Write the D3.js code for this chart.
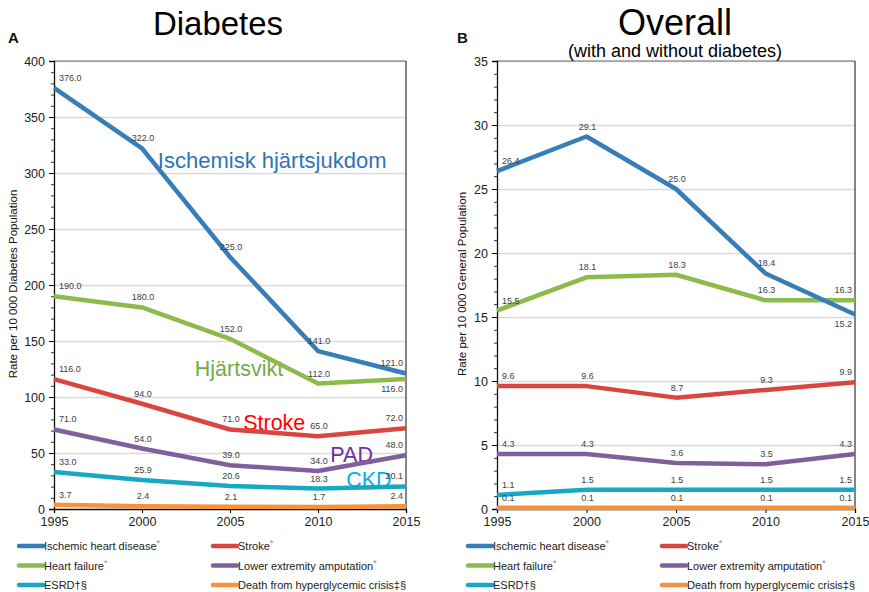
<!DOCTYPE html>
<html>
<head>
<meta charset="utf-8">
<script src="https://cdn.jsdelivr.net/npm/d3@7"></script>
<style>
  body { margin: 0; background: #fff; }
  text { font-family: "Liberation Sans", Arial, sans-serif; }
</style>
</head>
<body>
<script>
// years on the x axis
var years = [1995, 2000, 2005, 2010, 2015];

// series names in legend order
var seriesNames = ["Ischemic heart disease", "Stroke", "Heart failure",
                   "Lower extremity amputation", "ESRD\u2020\u00a7", "Death from hyperglycemic crisis\u2021\u00a7"];
var seriesStar = [true, true, true, true, false, false];
var seriesColors = ["#377db8", "#d9463f", "#8cbb4d", "#7f609d", "#17a8c4", "#f7923b"];

// Panel A - diabetes population
var diabIHD = [376.0, 322.0, 225.0, 141.0, 121.0];
var diabStroke = [116.0, 94.0, 71.0, 65.0, 72.0];
var diabHF = [190.0, 180.0, 152.0, 112.0, 116.0];
var diabLEA = [71.0, 54.0, 39.0, 34.0, 48.0];
var diabESRD = [33.0, 25.9, 20.6, 18.3, 20.1];
var diabHyper = [3.7, 2.4, 2.1, 1.7, 2.4];
var diabTicks = [0, 50, 100, 150, 200, 250, 300, 350, 400];

// Panel B - general population
var allIHD = [26.4, 29.1, 25.0, 18.4, 15.2];
var allStroke = [9.6, 9.6, 8.7, 9.3, 9.9];
var allHF = [15.5, 18.1, 18.3, 16.3, 16.3];
var allLEA = [4.3, 4.3, 3.6, 3.5, 4.3];
var allESRD = [1.1, 1.5, 1.5, 1.5, 1.5];
var allHyper = [0.1, 0.1, 0.1, 0.1, 0.1];
var allTicks = [0, 5, 10, 15, 20, 25, 30, 35];

// swedish callouts in panel A (text, colour, year, value at baseline)
var calloutText = ["Ischemisk hj\u00e4rtsjukdom", "Hj\u00e4rtsvikt", "Stroke", "PAD", "CKD"];
var calloutColor = ["#2e75b6", "#70ad47", "#ff0000", "#7030a0", "#00b0f0"];
var calloutYear = [2000.9, 2003.0, 2005.75, 2010.7, 2011.6];
var calloutValue = [304.5, 118.7, 70.5, 42.2, 19.8];

var W = 869, H = 592;
var svg = d3.select("body").append("svg").attr("width", W).attr("height", H);

function drawPanel(p) {
    var x = d3.scaleLinear().domain([1995, 2015]).range([p.left, p.right]);
    var y = d3.scaleLinear().domain([0, p.ticks[p.ticks.length - 1]]).range([509, 61]);
    var g = svg.append("g");

    // gridlines
    var grid = g.append("g").attr("transform", "translate(" + p.left + ",0)")
        .call(d3.axisLeft(y).tickValues(p.ticks).tickSize(-(p.right - p.left)).tickFormat(""));
    grid.select(".domain").remove();
    grid.selectAll("line").attr("stroke", "#d9d9d9").attr("stroke-width", 1.3);

    // frame top + right
    g.append("line").attr("x1", p.left).attr("x2", p.right).attr("y1", y.range()[1]).attr("y2", y.range()[1])
        .attr("stroke", "#6e6e6e").attr("stroke-width", 1.2);
    g.append("line").attr("x1", p.right).attr("x2", p.right).attr("y1", y.range()[1]).attr("y2", y.range()[0])
        .attr("stroke", "#333").attr("stroke-width", 1.2);

    // minor ticks
    var minor = d3.range(0, p.ticks[p.ticks.length - 1], p.minorStep);
    var mg = g.append("g").attr("transform", "translate(" + p.left + ",0)")
        .call(d3.axisLeft(y).tickValues(minor).tickSize(3).tickFormat(""));
    mg.select(".domain").remove();
    mg.selectAll("line").attr("stroke", "#333");

    // y axis
    var ya = g.append("g").attr("transform", "translate(" + p.left + ",0)")
        .call(d3.axisLeft(y).tickValues(p.ticks).tickSize(5).tickPadding(4));
    ya.select(".domain").attr("stroke", "#111").attr("stroke-width", 1.3);
    ya.selectAll("text").attr("font-size", 12.5).attr("fill", "#222")
        .attr("font-family", "'Liberation Sans', Arial, sans-serif");

    // x axis
    var xa = g.append("g").attr("transform", "translate(0,509)")
        .call(d3.axisBottom(x).tickValues(years).tickFormat(d3.format("d")).tickSize(4).tickPadding(4));
    xa.select(".domain").attr("stroke", "#111").attr("stroke-width", 1.3);
    xa.selectAll("text").attr("font-size", 12.5).attr("fill", "#222")
        .attr("font-family", "'Liberation Sans', Arial, sans-serif");

    // y axis title
    g.append("text")
        .attr("transform", "translate(" + p.titleX + ",284) rotate(-90)")
        .attr("text-anchor", "middle").attr("font-size", 11.5).attr("fill", "#111")
        .text(p.yTitle);

    // panel letter + title
    g.append("text").attr("x", p.letterX).attr("y", 43).attr("font-size", 15).attr("font-weight", "bold")
        .attr("fill", "#111").text(p.letter);
    g.append("text").attr("x", p.titleCx).attr("y", 35).attr("text-anchor", "middle")
        .attr("font-size", p.titleSize).attr("fill", "#000").text(p.title);
    if (p.subtitle) {
        g.append("text").attr("x", p.titleCx).attr("y", 57).attr("text-anchor", "middle")
            .attr("font-size", 18).attr("fill", "#000").text(p.subtitle);
    }

    // callouts sit under the lines
    if (p.callouts) {
        calloutText.forEach(function (t, i) {
            g.append("text").attr("x", x(calloutYear[i])).attr("y", y(calloutValue[i]))
                .attr("font-family", "'Open Sans', 'Noto Sans', sans-serif")
                .attr("font-size", i === 0 ? 22 : 21.5).attr("fill", calloutColor[i]).text(t);
        });
    }

    // lines, draw from bottom series upwards, ischemic last
    var line = d3.line().x(function (d, i) { return x(years[i]); }).y(function (d) { return y(d); });
    var order = [5, 4, 3, 1, 2, 0];
    order.forEach(function (k) {
        g.append("path").datum(p.series[k]).attr("d", line)
            .attr("fill", "none").attr("stroke", seriesColors[k]).attr("stroke-width", 4.5)
            .attr("stroke-linejoin", "round");
    });

    // data labels
    p.series.forEach(function (vals, k) {
        vals.forEach(function (v, i) {
            var below = p.below.some(function (b) { return b[0] === k && b[1] === i; });
            var anchor = i === 0 ? "start" : (i === vals.length - 1 ? "end" : "middle");
            var dx = i === 0 ? 5 : (i === vals.length - 1 ? -3 : 1);
            g.append("text")
                .attr("x", x(years[i]) + dx)
                .attr("y", y(v) + (below ? 13 : -7))
                .attr("text-anchor", anchor)
                .attr("font-size", 9).attr("fill", "#404040")
                .text(v.toFixed(1));
        });
    });

    // legend
    seriesNames.forEach(function (name, k) {
        var col = k % 2, row = Math.floor(k / 2);
        var lx = p.legendX[col], ly = 546 + row * 19.5;
        g.append("line").attr("x1", lx).attr("x2", lx + 24).attr("y1", ly).attr("y2", ly)
            .attr("stroke", seriesColors[k]).attr("stroke-width", 4.5).attr("stroke-linecap", "round");
        var t = g.append("text").attr("x", lx + 25).attr("y", ly + 4).attr("font-size", 11).attr("fill", "#222")
            .text(name);
        if (seriesStar[k]) {
            t.append("tspan").attr("dy", -4).attr("font-size", 9).attr("fill", "#888").text("*");
        }
    });
}

drawPanel({
    left: 54, right: 406, ticks: diabTicks, minorStep: 10,
    series: [diabIHD, diabStroke, diabHF, diabLEA, diabESRD, diabHyper],
    below: [[2, 4]],
    yTitle: "Rate per 10 000 Diabetes Population", titleX: 17,
    letter: "A", letterX: 8, title: "Diabetes", titleCx: 218, titleSize: 33,
    callouts: true, legendX: [19, 213]
});

drawPanel({
    left: 497, right: 855, ticks: allTicks, minorStep: 1,
    series: [allIHD, allStroke, allHF, allLEA, allESRD, allHyper],
    below: [[0, 4]],
    yTitle: "Rate per 10 000 General Population", titleX: 466,
    letter: "B", letterX: 457, title: "Overall", titleCx: 675, titleSize: 36,
    subtitle: "(with and without diabetes)", callouts: false, legendX: [468, 662]
});
</script>
</body>
</html>
